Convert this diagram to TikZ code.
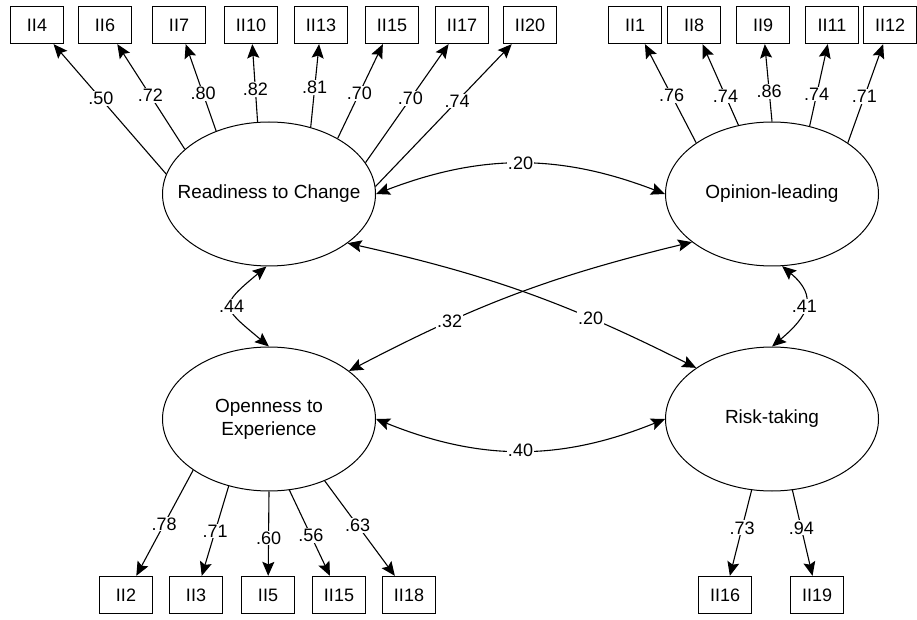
\documentclass[tikz,border=0pt]{standalone}
\usepackage{fontspec}
\setmainfont{Liberation Sans}
\usetikzlibrary{arrows.meta,shapes.geometric}

\begin{document}
\begin{tikzpicture}[x=1pt,y=1pt,>={Stealth[length=14pt,width=12pt,inset=2.5pt]}]
        \tikzset{latent/.style={draw,ellipse,minimum width=213pt,minimum height=144pt,inner sep=0pt,line width=1pt},
                 item/.style={draw,rectangle,minimum width=53pt,minimum height=37pt,inner sep=0pt,line width=1.3pt,font=\fontsize{18}{20}\selectfont},
                 factor text/.style={font=\fontsize{19}{23}\selectfont,align=center},
                 coef/.style={fill=white,inner sep=1pt,font=\fontsize{18}{20}\selectfont},
                 load/.style={->,line width=1.1pt},
                 cov/.style={<->,line width=1.1pt}}
        \useasboundingbox (0,0) rectangle (917,619);

        \node[latent] (ready) at (269,425) {};
        \node[latent] (opinion) at (772,425) {};
        \node[latent] (open) at (269,200) {};
        \node[latent] (risk) at (772,200) {};

        \node[factor text] at (ready) {Readiness to Change};
        \node[factor text] at (opinion) {Opinion-leading};
        \node[factor text] at (open) {Openness to\\Experience};
        \node[factor text] at (risk) {Risk-taking};

        % items of readiness
        \node[item] (ii4) at (37,594) {II4};
        \node[item] (ii6) at (105,594) {II6};
        \node[item] (ii7) at (179,594) {II7};
        \node[item] (ii10) at (251,594) {II10};
        \node[item] (ii13) at (321,594) {II13};
        \node[item] (ii15) at (392,594) {II15};
        \node[item] (ii17) at (462,594) {II17};
        \node[item] (ii20) at (530,594) {II20};
        % items of opinion-leading
        \node[item] (ii1) at (635,594) {II1};
        \node[item] (ii8) at (694,594) {II8};
        \node[item] (ii9) at (763,594) {II9};
        \node[item] (ii11) at (832,594) {II11};
        \node[item] (ii12) at (890,594) {II12};
        % items of openness
        \node[item] (ii2) at (126,24) {II2};
        \node[item] (ii3) at (196,24) {II3};
        \node[item] (ii5) at (268,24) {II5};
        \node[item] (ii15b) at (339,24) {II15};
        \node[item] (ii18) at (409,24) {II18};
        % items of risk-taking
        \node[item] (ii16) at (725,24) {II16};
        \node[item] (ii19) at (817,24) {II19};

        \draw[load] (ready.169) -- node[coef,pos=0.58] {.50} (ii4);
        \draw[load] (ready.152) -- node[coef,pos=0.51] {.72} (ii6);
        \draw[load] (ready.130) -- node[coef,pos=0.43] {.80} (ii7);
        \draw[load] (ready.99) -- node[coef,pos=0.42] {.82} (ii10);
        \draw[load] (ready.58) -- node[coef,pos=0.48] {.81} (ii13);
        \draw[load] (ready.39) -- node[coef,pos=0.48] {.70} (ii15);
        \draw[load] (ready.18) -- node[coef,pos=0.54] {.70} (ii17);
        \draw[load] (ready.4) -- node[coef,pos=0.6] {.74} (ii20);

        \draw[load] (opinion.146) -- node[coef,pos=0.48] {.76} (ii1);
        \draw[load] (opinion.116) -- node[coef,pos=0.36] {.74} (ii8);
        \draw[load] (opinion.90) -- node[coef,pos=0.39] {.86} (ii9);
        \draw[load] (opinion.61) -- node[coef,pos=0.39] {.74} (ii11);
        \draw[load] (opinion.34) -- node[coef,pos=0.47] {.71} (ii12);

        \draw[load] (open.214) -- node[coef,pos=0.51] {.78} (ii2);
        \draw[load] (open.239) -- node[coef,pos=0.5] {.71} (ii3);
        \draw[load] (open.270) -- node[coef,pos=0.55] {.60} (ii5);
        \draw[load] (open.286) -- node[coef,pos=0.53] {.56} (ii15b);
        \draw[load] (open.312) -- node[coef,pos=0.47] {.63} (ii18);

        \draw[load] (risk.254) -- node[coef,pos=0.44] {.73} (ii16);
        \draw[load] (risk.286) -- node[coef,pos=0.44] {.94} (ii19);

        % correlations
        \draw[cov] (ready.east) to[bend left=21] node[coef] {.20} (opinion.west);
        \draw[cov] (open.east) to[bend right=22] node[coef] {.40} (risk.west);
        \draw[cov] (ready.268) to[out=220,in=140,looseness=2] node[coef] {.44} (open.90);
        \draw[cov] (opinion.278) to[out=-40,in=40,looseness=1.5] node[coef] {.41} (risk.90);
        \draw[cov] (ready.328) to[bend left=7] node[coef,pos=0.7] {.20} (risk.146);
        \draw[cov] (open.31) to[bend left=7] node[coef,pos=0.29] {.32} (opinion.211);
\end{tikzpicture}
\end{document}
